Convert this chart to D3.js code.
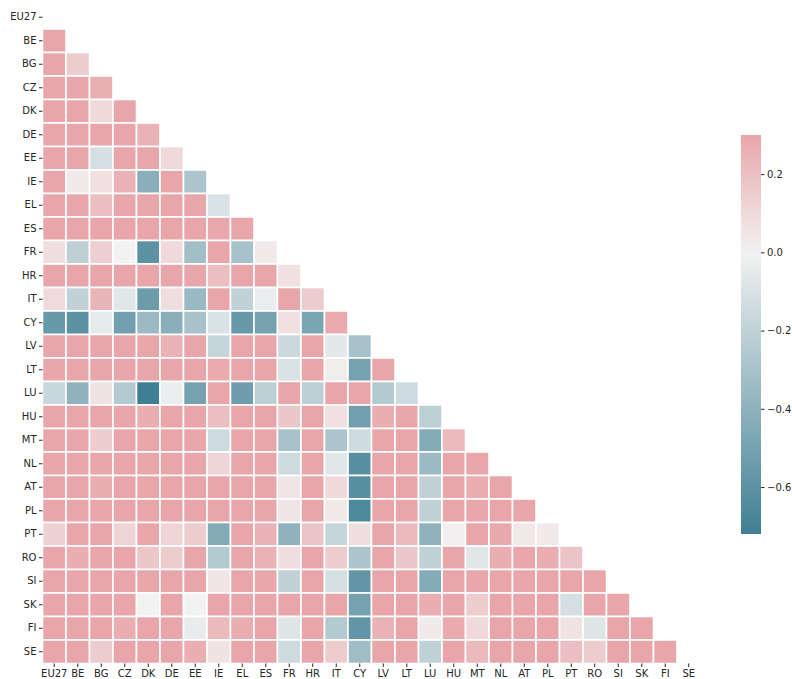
<!DOCTYPE html>
<html>
<head>
<meta charset="utf-8" />
<title>Correlation heatmap</title>
<script src="https://cdnjs.cloudflare.com/ajax/libs/d3/7.8.5/d3.min.js"></script>
<style>
	body { margin: 0; background: #fff; }
	#chart text { font-family: "DejaVu Sans", sans-serif; font-size: 10px; fill: #262626; }
	#chart .tick line { stroke: #262626; }
</style>
</head>
<body>
<svg id="chart" width="792" height="679"></svg>
<script>
// country codes (rows and columns)
const countries = ['EU27','BE','BG','CZ','DK','DE','EE','IE','EL','ES','FR','HR','IT','CY',
	'LV','LT','LU','HU','MT','NL','AT','PL','PT','RO','SI','SK','FI','SE'];

// lower triangle of the correlation matrix, row i holds columns 0..i-1
const corr = [
	[],
	[0.62],
	[0.48, 0.15],
	[0.55, 0.52, 0.26],
	[0.51, 0.47, 0.1, 0.44],
	[0.66, 0.58, 0.41, 0.5, 0.25],
	[0.45, 0.39, -0.12, 0.43, 0.36, 0.1],
	[0.4, 0.03, 0.07, 0.25, -0.42, 0.35, -0.28],
	[0.57, 0.49, 0.2, 0.46, 0.38, 0.44, 0.41, -0.1],
	[0.6, 0.53, 0.37, 0.48, 0.35, 0.5, 0.42, 0.29, 0.55],
	[0.08, -0.21, 0.14, 0.0, -0.6, 0.1, -0.32, 0.34, -0.3, 0.03],
	[0.52, 0.45, 0.4, 0.47, 0.33, 0.43, 0.39, 0.2, 0.5, 0.46, 0.07],
	[0.09, -0.2, 0.24, -0.07, -0.54, 0.08, -0.36, 0.36, -0.2, -0.03, 0.38, 0.15],
	[-0.56, -0.6, -0.05, -0.52, -0.35, -0.42, -0.3, -0.1, -0.56, -0.5, 0.07, -0.48, 0.28],
	[0.5, 0.46, 0.41, 0.49, 0.35, 0.25, 0.44, -0.18, 0.47, 0.43, -0.16, 0.45, -0.06, -0.3],
	[0.53, 0.48, 0.42, 0.46, 0.37, 0.4, 0.45, 0.28, 0.49, 0.44, -0.1, 0.47, 0.02, -0.5, 0.58],
	[-0.17, -0.4, 0.06, -0.25, -0.72, -0.03, -0.5, 0.33, -0.53, -0.22, 0.36, -0.22, 0.31, 0.3, -0.25, -0.15],
	[0.5, 0.46, 0.43, 0.47, 0.27, 0.45, 0.44, 0.2, 0.48, 0.45, 0.17, 0.46, 0.07, -0.52, 0.27, 0.41, -0.22],
	[0.49, 0.44, 0.15, 0.46, 0.38, 0.42, 0.4, -0.15, 0.45, 0.43, -0.3, 0.44, -0.28, -0.15, 0.4, 0.42, -0.45, 0.22],
	[0.55, 0.5, 0.4, 0.48, 0.37, 0.46, 0.43, 0.12, 0.47, 0.45, -0.15, 0.46, -0.07, -0.62, 0.44, 0.46, -0.35, 0.42, 0.4],
	[0.58, 0.52, 0.27, 0.5, 0.4, 0.55, 0.42, 0.36, 0.46, 0.44, 0.05, 0.45, 0.1, -0.62, 0.43, 0.45, -0.2, 0.44, 0.27, 0.5],
	[0.56, 0.5, 0.41, 0.49, 0.38, 0.47, 0.43, 0.35, 0.45, 0.43, 0.05, 0.44, 0.04, -0.66, 0.42, 0.44, -0.2, 0.43, 0.4, 0.48, 0.46],
	[0.13, 0.42, 0.38, 0.12, 0.35, 0.12, 0.15, -0.45, 0.4, 0.25, -0.4, 0.18, -0.18, 0.08, 0.38, 0.22, -0.4, 0.01, 0.37, 0.29, 0.04, 0.03],
	[0.45, 0.27, 0.4, 0.42, 0.17, 0.15, 0.38, -0.25, 0.41, 0.25, 0.08, 0.4, 0.15, -0.28, 0.39, 0.17, -0.2, 0.4, -0.07, 0.27, 0.42, 0.27, 0.18],
	[0.52, 0.47, 0.4, 0.46, 0.36, 0.44, 0.41, 0.05, 0.45, 0.42, -0.2, 0.43, -0.12, -0.58, 0.41, 0.43, -0.45, 0.42, 0.38, 0.44, 0.43, 0.41, 0.35, 0.39],
	[0.5, 0.45, 0.42, 0.47, 0.0, 0.43, 0.0, 0.37, 0.44, 0.42, 0.35, 0.41, 0.33, -0.5, 0.42, 0.44, 0.27, 0.4, 0.15, 0.43, 0.42, 0.4, -0.12, 0.38, 0.45],
	[0.51, 0.46, 0.4, 0.27, 0.38, 0.44, -0.04, 0.22, 0.27, 0.43, -0.08, 0.42, -0.25, -0.58, 0.25, 0.41, 0.03, 0.28, 0.1, 0.42, 0.4, 0.39, 0.06, -0.08, 0.41, 0.44],
	[0.49, 0.45, 0.15, 0.44, 0.37, 0.42, 0.27, 0.06, 0.43, 0.41, -0.15, 0.42, 0.15, -0.33, 0.4, 0.42, -0.2, 0.41, 0.22, 0.43, 0.41, 0.4, 0.2, 0.15, 0.42, 0.43, 0.45]
];

// colour bar ticks
const cbarTicks = [-0.6, -0.4, -0.2, 0.0, 0.2];
const vmax = 0.3;

let cells = [];
corr.forEach((row, i) => row.forEach((v, j) => cells.push({row: countries[i], col: countries[j], value: v})));
const vmin = d3.min(cells, d => d.value);
const vrange = Math.max(vmax, -vmin);

// diverging palette centred on 0 (like seaborn 220/10)
const color = d3.scaleLinear()
	.domain([-vrange, 0, vrange])
	.range(["#3f7f93", "#f2f2f2", "#da3b46"]);
const fillColor = v => color(Math.max(vmin, Math.min(vmax, v)));

const svg = d3.select("#chart");
const mapLeft = 42.5, mapTop = 5.5, mapSize = 658;

let x = d3.scaleBand().domain(countries).range([mapLeft, mapLeft + mapSize]);
let y = d3.scaleBand().domain(countries).range([mapTop, mapTop + mapSize]);

svg.append("g")
	.selectAll("rect")
	.data(cells)
	.enter()
	.append("rect")
		.attr("x", d => x(d.col))
		.attr("y", d => y(d.row))
		.attr("width", x.bandwidth())
		.attr("height", y.bandwidth())
		.attr("fill", d => fillColor(d.value))
		.attr("stroke", "#fff")
		.attr("stroke-width", 1.6);

svg.append("g")
	.attr("transform", `translate(${mapLeft},0)`)
	.call(d3.axisLeft(y).tickSize(3.5).tickPadding(2.5))
	.call(g => g.select(".domain").remove());

svg.append("g")
	.attr("transform", `translate(0,${mapTop + mapSize})`)
	.call(d3.axisBottom(x).tickSize(3.5).tickPadding(2.5))
	.call(g => g.select(".domain").remove());

// colour bar
const cbX = 741, cbW = 20;
let cbY = d3.scaleLinear().domain([vmin, vmax]).range([534, 135]);

let grad = svg.append("defs").append("linearGradient")
	.attr("id", "cbar").attr("x1", 0).attr("y1", 1).attr("x2", 0).attr("y2", 0);
d3.range(0, 1.0001, 0.05).forEach(t => {
	grad.append("stop")
		.attr("offset", t)
		.attr("stop-color", fillColor(vmin + t * (vmax - vmin)));
});

svg.append("rect")
	.attr("x", cbX)
	.attr("y", cbY(vmax))
	.attr("width", cbW)
	.attr("height", cbY(vmin) - cbY(vmax))
	.attr("fill", "url(#cbar)");

svg.append("g")
	.attr("transform", `translate(${cbX + cbW},0)`)
	.call(d3.axisRight(cbY).tickValues(cbarTicks).tickFormat(d3.format(".1f")).tickSize(3.5).tickPadding(2.5))
	.call(g => g.select(".domain").remove());
</script>
</body>
</html>
